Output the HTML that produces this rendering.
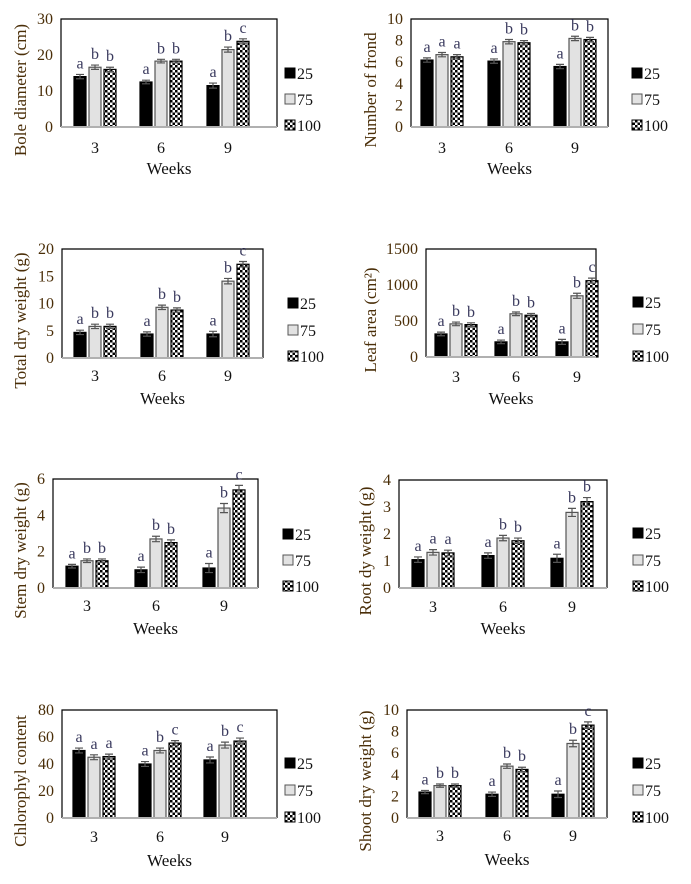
<!DOCTYPE html>
<html><head><meta charset="utf-8">
<style>
html,body{margin:0;padding:0;background:#fff;}
svg{display:block;font-family:"Liberation Serif",serif;}
</style></head>
<body>
<svg id="fig" width="691" height="884" viewBox="0 0 691 884" xmlns="http://www.w3.org/2000/svg">
<defs>
<pattern id="dots" width="5" height="5" patternUnits="userSpaceOnUse">
<rect width="5" height="5" fill="#fff"/>
<rect x="0" y="0" width="2.5" height="2.5" fill="#000"/>
<rect x="2.5" y="2.5" width="2.5" height="2.5" fill="#000"/>
</pattern>
</defs>
</svg>
<script>
const weeks = ['3','6','9'];
const seriesNames = ['25','75','100'];

const boleTicks = [0,10,20,30];
const bole25 = [14,12.5,11.5];
const bole75 = [16.6,18.3,21.5];
const bole100 = [16,18.3,23.8];
const boleErr = [0.6,0.5,0.7];
const boleLetters = [['a','b','b'],['a','b','b'],['a','b','c']];

const frondTicks = [0,2,4,6,8,10];
const frond25 = [6.2,6.1,5.6];
const frond75 = [6.7,7.9,8.2];
const frond100 = [6.5,7.8,8.1];
const frondErr = [0.2,0.2,0.2];
const frondLetters = [['a','a','a'],['a','b','b'],['a','b','b']];

const totalTicks = [0,5,10,15,20];
const total25 = [4.7,4.4,4.4];
const total75 = [5.8,9.3,14.1];
const total100 = [5.8,8.8,17.2];
const totalErr = [0.4,0.4,0.5];
const totalLetters = [['a','b','b'],['a','b','b'],['a','b','c']];

const leafTicks = [0,500,1000,1500];
const leaf25 = [320,210,210];
const leaf75 = [460,600,850];
const leaf100 = [450,580,1060];
const leafErr = [25,25,35];
const leafLetters = [['a','b','b'],['a','b','b'],['a','b','c']];

const stemTicks = [0,2,4,6];
const stem25 = [1.2,1.0,1.1];
const stem75 = [1.5,2.7,4.4];
const stem100 = [1.5,2.5,5.4];
const stemErr = [0.1,0.15,0.25];
const stemLetters = [['a','b','b'],['a','b','b'],['a','b','c']];

const rootTicks = [0,1,2,3,4];
const root25 = [1.05,1.2,1.1];
const root75 = [1.32,1.85,2.8];
const root100 = [1.3,1.75,3.2];
const rootErr = [0.1,0.1,0.15];
const rootLetters = [['a','a','a'],['a','b','b'],['a','b','b']];

const chloroTicks = [0,20,40,60,80];
const chloro25 = [50,40,43];
const chloro75 = [45,50,54];
const chloro100 = [45.5,55.5,57];
const chloroErr = [1.8,1.8,2.2];
const chloroLetters = [['a','a','a'],['a','b','c'],['a','b','c']];

const shootTicks = [0,2,4,6,8,10];
const shoot25 = [2.4,2.2,2.2];
const shoot75 = [3.0,4.8,6.9];
const shoot100 = [3.0,4.5,8.6];
const shootErr = [0.15,0.2,0.3];
const shootLetters = [['a','b','b'],['a','b','b'],['a','b','c']];

const panels = [
 {id:'bole', title:'Bole diameter (cm)', ticks:boleTicks, s:[bole25,bole75,bole100], err:boleErr, letters:boleLetters,
  L:61,R:277,T:19,B:127,cx:[95,161,228],tx:20,lx:285,ly:[73,99,125],wy:148,Wy:168},
 {id:'frond', title:'Number of frond', ticks:frondTicks, s:[frond25,frond75,frond100], err:frondErr, letters:frondLetters,
  L:411,R:608,T:19,B:127,cx:[442,509,575],tx:370,lx:632,ly:[73,99,125],wy:148,Wy:168},
 {id:'total', title:'Total dry weight (g)', ticks:totalTicks, s:[total25,total75,total100], err:totalErr, letters:totalLetters,
  L:62,R:263,T:249,B:358,cx:[95,162,228],tx:20,lx:288,ly:[303,330,356],wy:376,Wy:398},
 {id:'leaf', title:'Leaf area (cm²)', ticks:leafTicks, s:[leaf25,leaf75,leaf100], err:leafErr, letters:leafLetters,
  L:426,R:596,T:249,B:357,cx:[456,516,577],tx:370,lx:633,ly:[302,329,356],wy:377,Wy:398},
 {id:'stem', title:'Stem dry weight (g)', ticks:stemTicks, s:[stem25,stem75,stem100], err:stemErr, letters:stemLetters,
  L:53,R:258,T:479,B:588,cx:[87,156,224],tx:20,lx:283,ly:[534,560,586],wy:606,Wy:628},
 {id:'root', title:'Root dy weight (g)', ticks:rootTicks, s:[root25,root75,root100], err:rootErr, letters:rootLetters,
  L:399,R:607,T:480,B:588,cx:[433,503,572],tx:365,lx:633,ly:[533,560,586],wy:607,Wy:628},
 {id:'chloro', title:'Chlorophyl content', ticks:chloroTicks, s:[chloro25,chloro75,chloro100], err:chloroErr, letters:chloroLetters,
  L:62,R:277,T:710,B:818,cx:[94,160,225],tx:20,lx:285,ly:[763,790,817],wy:837,Wy:860},
 {id:'shoot', title:'Shoot dry weight (g)', ticks:shootTicks, s:[shoot25,shoot75,shoot100], err:shootErr, letters:shootLetters,
  L:407,R:607,T:710,B:818,cx:[440,507,573],tx:365,lx:633,ly:[763,790,817],wy:836,Wy:859}
];

const NS='http://www.w3.org/2000/svg';
const svg=document.getElementById('fig');
function mk(tag,attrs,parent){const e=document.createElementNS(NS,tag);for(const k in attrs)e.setAttribute(k,attrs[k]);(parent||svg).appendChild(e);return e;}
const fills=['#000','#e2e2e2','url(#dots)'];
const strokes=['#000','#555','#000'];
const BW=12, STEP=15;

panels.forEach(p=>{
  const g=mk('g',{});
  
  
  const max=p.ticks[p.ticks.length-1];
  const y=v=>p.B-(v/max)*(p.B-p.T);
  // frame
  const fr=mk('path',{d:`M${p.L},${p.B} L${p.L},${p.T} L${p.R},${p.T} L${p.R},${p.B}`,fill:'none',stroke:'#000','stroke-width':1.2},g);
  
  
  // ticks
  p.ticks.forEach(t=>{
    const tl=mk('text',{x:p.L-8,y:y(t)+5,'text-anchor':'end','font-size':16,fill:'#4a2e08'},g);
    tl.textContent=t;
    
    
  });
  // bars
  weeks.forEach((w,i)=>{
    for(let k=0;k<3;k++){
      const v=p.s[k][i];
      const xc=p.cx[i]+(k-1)*STEP;
      const b=mk('rect',{x:xc-BW/2,y:y(v),width:BW,height:p.B-y(v),fill:fills[k],stroke:strokes[k],'stroke-width':1.2},g);
      
      
      const e=p.err[i]*(k===0?1:1);
      const ey1=y(v+e), ey0=y(Math.max(v-e,0));
      const eb=mk('path',{d:`M${xc},${ey0} L${xc},${ey1} M${xc-4},${ey1} L${xc+4},${ey1} M${xc-4},${ey0} L${xc+4},${ey0}`,stroke:'#555','stroke-width':1.2,fill:'none'},g);
      
      
      const lt=mk('text',{x:xc,y:ey1-6,'text-anchor':'middle','font-size':16,fill:'#3a3a5e'},g);
      lt.textContent=p.letters[i][k];
      
      
    }
    const wl=mk('text',{x:p.cx[i],y:p.wy+5,'text-anchor':'middle','font-size':16,fill:'#111'},g);
    wl.textContent=w;
    
    
  });
  // baseline
  const ax=mk('line',{x1:p.L,y1:p.B,x2:p.R,y2:p.B,stroke:'#b0b0b0','stroke-width':2},g);
  
  
  // x title
  const xt=mk('text',{x:(p.L+p.R)/2,y:p.Wy+6,'text-anchor':'middle','font-size':17,fill:'#111'},g);
  xt.textContent='Weeks';
  
  
  // y title
  const yc=(p.T+p.B)/2+17;
  const yt=mk('text',{x:p.tx,y:yc,'text-anchor':'middle','font-size':17,fill:'#4a2e08',transform:`rotate(-90 ${p.tx} ${yc})`,dy:6},g);
  yt.textContent=p.title;
  
  
  // legend
  for(let k=0;k<3;k++){
    const lg=mk('g',{},g);
    
    
    mk('rect',{x:p.lx,y:p.ly[k]-5,width:10,height:10,fill:fills[k],stroke:strokes[k],'stroke-width':1},lg);
    const tx=mk('text',{x:p.lx+12,y:p.ly[k]+6,'font-size':16,fill:'#111'},lg);
    tx.textContent=seriesNames[k];
  }
});
</script>
</body></html>
